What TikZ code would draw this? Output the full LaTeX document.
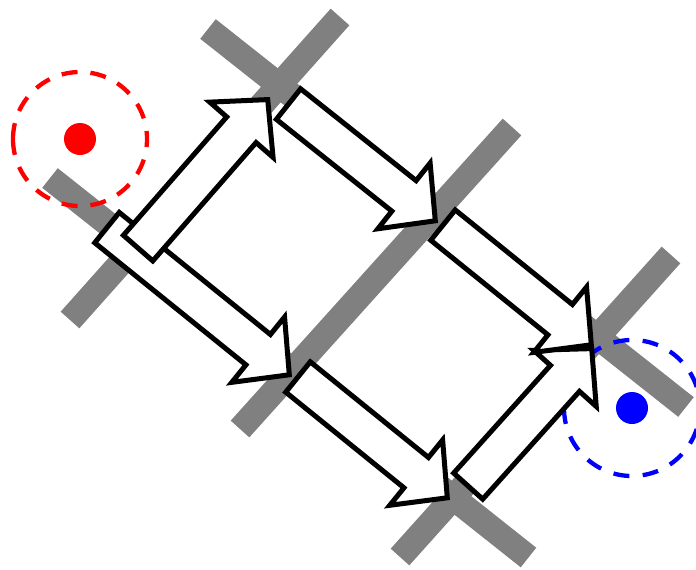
\documentclass[tikz,border=0pt]{standalone}
\usetikzlibrary{calc}
\newcommand{\blockarrow}[3]{% #1 tail, #2 tip, #3 name of head base
  \coordinate (#3) at ($(#2)!40pt!(#1)$);
  \draw[barrow] ($(#1)!19.5pt!90:(#2)$) -- ($(#3)!19.5pt!90:(#2)$)
    -- ($(#3)!42pt!90:(#2)$) -- (#2) -- ($(#3)!42pt!-90:(#2)$)
    -- ($(#3)!19.5pt!-90:(#2)$) -- ($(#1)!19.5pt!-90:(#2)$) -- cycle;
}
\begin{document}
\begin{tikzpicture}[x=1pt,y=-1pt,
  bar/.style={draw={rgb,255:red,128;green,128;blue,128}, line width=25pt},
  ring/.style={line width=4.3pt},
  barrow/.style={draw=black, fill=white, line width=5pt, line join=miter}]
\useasboundingbox (0,0) rectangle (696,570);
% gray lattice bars
\coordinate (g1a) at (70,320);   \coordinate (g1b) at (340,17);
\coordinate (g2a) at (50,178);   \coordinate (g2b) at (528.5,557.5);
\coordinate (g3a) at (240,429);  \coordinate (g3b) at (512,127);
\coordinate (g4a) at (208,29);   \coordinate (g4b) at (686,407);
\coordinate (g5a) at (400,557);  \coordinate (g5b) at (671,255);
\draw[bar] (g1a) -- (g1b);
\draw[bar] (g2a) -- (g2b);
\draw[bar] (g3a) -- (g3b);
\draw[bar] (g4a) -- (g4b);
\draw[bar] (g5a) -- (g5b);
% start and end markers
\coordinate (start) at (80,139);
\coordinate (goal) at (632,408);
\draw[ring, red, dash pattern=on 16pt off 12.93pt]
  ($(start)+(-67,0)$) arc[start angle=180, end angle=-180, radius=67];
\fill[red] (start) circle (16);
\draw[ring, blue, dash pattern=on 16pt off 13.38pt]
  ($(goal)+(-68,0)$) arc[start angle=180, end angle=-180, radius=68];
\fill[blue] (goal) circle (16);
% arrow end points
\coordinate (a1t) at (138.1,248.1); \coordinate (a1e) at (267.7,99.6);
\coordinate (a2t) at (107,227.6);   \coordinate (a2e) at (289.3,374.8);
\coordinate (a3t) at (288.5,104.1); \coordinate (a3e) at (435.3,220.8);
\coordinate (a4t) at (443,225.1);   \coordinate (a4e) at (591.3,344.8);
\coordinate (a5t) at (298,377);     \coordinate (a5e) at (447.3,497.8);
\coordinate (a6t) at (468.2,486.1); \coordinate (a6e) at (591.7,348.6);
\blockarrow{a2t}{a2e}{a2h}
\blockarrow{a1t}{a1e}{a1h}
\blockarrow{a3t}{a3e}{a3h}
\blockarrow{a5t}{a5e}{a5h}
\blockarrow{a6t}{a6e}{a6h}
\blockarrow{a4t}{a4e}{a4h}
\end{tikzpicture}
\end{document}
